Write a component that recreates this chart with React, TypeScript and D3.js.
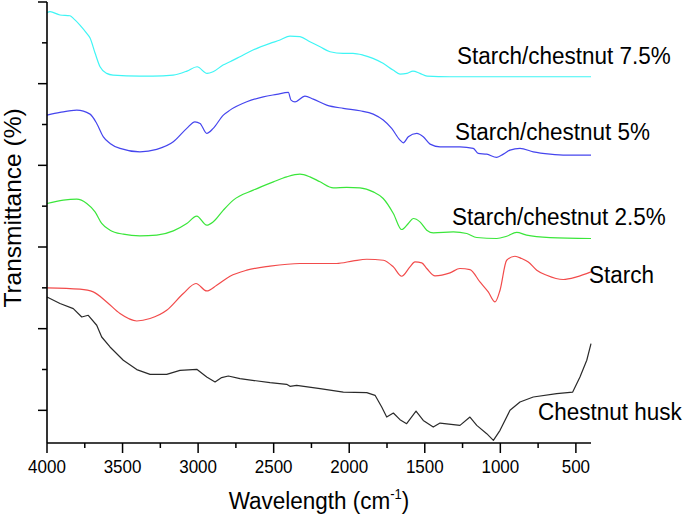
import React from "react";
import * as d3 from "d3";

// ---- Data (wavenumber cm-1, transmittance a.u. with vertical offsets) ----
const wn75 = [4000,3980,3914,3848,3826,3782,3737,3715,3682,3649,3605,3563,3385,3299,3166,3074,3007,2941,2901,2835,2789,2723,2637,2524,2458,2392,2326,2260,2193,2127,2041,1975,1909,1843,1776,1710,1664,1618,1578,1532,1485,1333,400];
const t75 = [58.7,58.81,58.41,58.32,58.0,57.18,56.16,55.59,53.75,52.07,51.26,51.05,50.93,50.93,51.05,51.54,52.07,51.26,51.46,52.28,52.68,53.3,54.12,54.94,55.34,55.83,55.75,55.13,54.52,53.91,53.71,53.71,53.5,53.1,52.49,51.67,51.18,51.26,51.54,51.26,50.93,50.85,50.85];

const wn5 = [4000,3914,3803,3715,3671,3627,3583,3517,3385,3274,3164,3075,3021,2987,2943,2900,2833,2789,2678,2569,2480,2403,2385,2359,2293,2238,2149,2039,1929,1841,1775,1719,1664,1642,1609,1553,1510,1465,1399,1267,1179,1146,1090,1024,980,936,870,782,671,561,400];
const t5 = [46.15,46.48,46.76,46.27,45.13,43.49,42.68,42.07,41.65,41.95,42.88,44.52,45.33,45.13,43.91,44.52,46.15,46.76,47.78,48.39,48.69,48.93,47.99,47.78,48.48,48.11,47.38,46.97,46.68,46.27,45.54,44.52,43.09,42.76,43.49,43.91,43.49,42.6,42.27,42.27,42.07,41.46,41.37,40.97,41.37,41.86,42.07,41.65,41.37,41.25,41.25];

const wn25 = [4000,3892,3803,3737,3682,3638,3583,3495,3385,3274,3164,3075,3009,2943,2900,2833,2767,2635,2502,2414,2326,2260,2193,2105,2017,1929,1841,1775,1708,1653,1609,1576,1532,1487,1443,1311,1222,1156,1024,958,892,826,671,400];
const t25 = [35.33,35.74,35.86,35.33,34.3,32.88,32.06,31.57,31.36,31.45,31.97,32.88,33.77,32.67,33.08,34.51,35.74,36.96,37.98,38.59,38.92,38.59,37.98,37.24,37.29,37.24,36.75,35.94,34.11,32.14,32.88,33.49,33.08,32.06,31.73,31.85,31.65,31.16,31.04,31.32,31.78,31.45,31.16,31.04];

const wnStarch = [4000,3782,3694,3605,3517,3406,3318,3208,3098,3014,2943,2877,2789,2678,2524,2326,2083,1973,1884,1774,1708,1653,1598,1565,1520,1487,1432,1333,1267,1201,1135,1080,1035,1002,958,903,859,815,759,693,584,495,400];
const tStarch = [24.99,24.83,24.5,23.27,21.85,20.94,21.24,22.25,24.3,25.53,24.62,25.32,26.42,27.16,27.65,27.98,27.98,28.3,28.5,28.38,27.56,26.42,27.56,28.17,28.05,27.37,26.46,26.83,27.37,27.24,25.72,24.5,23.27,24.71,28.38,28.87,28.59,28.17,27.16,26.54,26.02,26.34,26.95];

const wnHusk = [4000,3914,3826,3770,3727,3671,3638,3583,3495,3406,3318,3208,3120,3009,2943,2888,2844,2800,2723,2524,2414,2392,2348,2193,2039,1884,1829,1785,1752,1708,1664,1620,1558,1510,1444,1399,1267,1201,1156,1090,1046,1002,936,870,782,627,521,473,428,400];
const tHusk = [23.88,23.08,22.46,21.43,21.64,20.42,18.98,17.76,16.13,14.99,14.41,14.41,14.9,15.02,14.08,13.47,14.01,14.2,13.88,13.39,13.19,12.94,13.06,12.66,12.24,12.17,11.84,10.4,9.18,9.67,8.86,8.37,9.91,8.77,7.95,8.44,8.16,9.18,8.16,7.14,6.32,7.55,10.0,11.02,11.63,12.05,12.24,14.08,16.13,18.17];

const seriesNames = ["Starch/chestnut 7.5%", "Starch/chestnut 5%", "Starch/chestnut 2.5%", "Starch", "Chestnut husk"];
const seriesColors = ["#3ff5f5", "#4545ee", "#3ae63a", "#f24b4b", "#2a2a2a"];

const xMajorTicks = [4000, 3500, 3000, 2500, 2000, 1500, 1000, 500];
const xMinorTicks = [3750, 3250, 2750, 2250, 1750, 1250, 750];
const yMajorTicks = [10, 20, 30, 40, 50, 60];
const yMinorTicks = [15, 25, 35, 45, 55];

const W = 685, H = 518;
const x = d3.scaleLinear().domain([4000, 400]).range([47, 591]);
const y = d3.scaleLinear().domain([6, 60]).range([443, 2]);

const FONT = "'Liberation Sans', Arial, sans-serif";

export default function App() {
  const series = [
    { wn: wn75, t: t75, curve: d3.curveMonotoneX },
    { wn: wn5, t: t5, curve: d3.curveMonotoneX },
    { wn: wn25, t: t25, curve: d3.curveMonotoneX },
    { wn: wnStarch, t: tStarch, curve: d3.curveMonotoneX },
    { wn: wnHusk, t: tHusk, curve: d3.curveLinear },
  ];
  const labelPos = [
    { x: 457, y: 64 },
    { x: 455, y: 140 },
    { x: 452, y: 225 },
    { x: 589, y: 283 },
    { x: 538, y: 420 },
  ];
  const x0 = x.range()[0], x1 = x.range()[1];
  const yb = y.range()[0], yt = y.range()[1];
  return (
    <svg width={W} height={H} style={{ position: "absolute", left: 0, top: 0, background: "#fff" }}>
      {series.map((s, i) => {
        const pts = s.wn.map((w, j) => [w, s.t[j]] as [number, number]);
        const line = d3.line<[number, number]>().x(d => x(d[0])).y(d => y(d[1])).curve(s.curve);
        return <path key={i} d={line(pts) || ""} fill="none" stroke={seriesColors[i]} strokeWidth={1.2} strokeLinejoin="round" />;
      })}
      {/* axes */}
      <line x1={x0} x2={x1} y1={yb} y2={yb} stroke="#000" strokeWidth={1.6} />
      <line x1={x0} x2={x0} y1={yt} y2={yb} stroke="#000" strokeWidth={1.6} />
      {xMajorTicks.map(v => (
        <g key={"xm" + v}>
          <line x1={x(v)} x2={x(v)} y1={yb} y2={yb + 10} stroke="#000" strokeWidth={1.5} />
          <text transform={`translate(${x(v)},${473}) scale(1,1.1)`} textAnchor="middle" fontFamily={FONT} fontSize={17} fill="#000">{String(v)}</text>
        </g>
      ))}
      {xMinorTicks.map(v => (
        <line key={"xn" + v} x1={x(v)} x2={x(v)} y1={yb} y2={yb + 5} stroke="#000" strokeWidth={1.5} />
      ))}
      {yMajorTicks.map(v => (
        <line key={"ym" + v} x1={x0 - 9} x2={x0} y1={y(v)} y2={y(v)} stroke="#000" strokeWidth={1.5} />
      ))}
      {yMinorTicks.map(v => (
        <line key={"yn" + v} x1={x0 - 5} x2={x0} y1={y(v)} y2={y(v)} stroke="#000" strokeWidth={1.5} />
      ))}
      {/* axis titles */}
      <text transform={`translate(${(x0 + x1) / 2},509) scale(1,1.1)`} textAnchor="middle" fontFamily={FONT} fontSize={22.5} fill="#000">
        Wavelength (cm<tspan fontSize={13} dy={-9}>-1</tspan><tspan dy={9}>)</tspan>
      </text>
      <text transform={`translate(21,208) rotate(-90)`} textAnchor="middle" fontFamily={FONT} fontSize={24.5} fill="#000">
        Transmittance (%)
      </text>
      {/* series labels */}
      {seriesNames.map((n, i) => (
        <text key={n} transform={`translate(${labelPos[i].x},${labelPos[i].y}) scale(1,1.1)`} fontFamily={FONT} fontSize={22.5} fill="#000">{n}</text>
      ))}
    </svg>
  );
}
